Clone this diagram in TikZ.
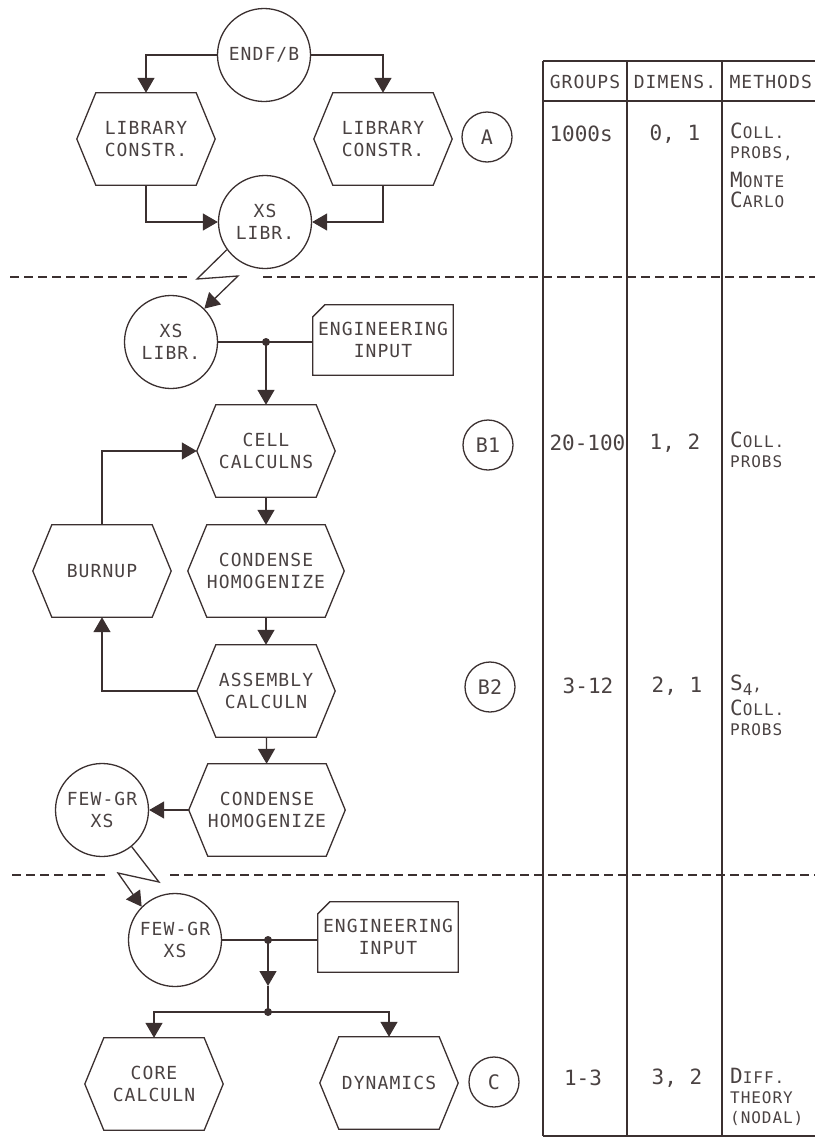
\documentclass[tikz,border=0pt]{standalone}
\usepackage{fontspec}
\newfontfamily\rxmono[LetterSpace=6]{DejaVu Sans Mono}
\newfontfamily\rxplain{DejaVu Sans Mono}
\usetikzlibrary{arrows.meta}
\definecolor{rxInk}{HTML}{3B3030}
\definecolor{rxText}{HTML}{4A4242}
\newcommand\rxfont{\rxmono\fontsize{18}{22}\selectfont}
\newcommand\rxvalfont{\rxplain\fontsize{21}{24}\selectfont}
\newcommand\rxsmallfont{\rxmono\fontsize{16}{20}\selectfont}
\newcommand\rxtagfont{\rxplain\fontsize{20}{22}\selectfont}
\newcommand\rxcap[1]{{\fontsize{21}{20}\selectfont #1}}
\tikzset{
  rx line/.style={draw=rxInk, line width=1.3pt},
  rx flow/.style={rx line, -{Triangle[length=15pt,width=17pt]}},
  rx guide/.style={draw=rxInk, line width=1.2pt, dash pattern=on 9pt off 5pt},
  rx disc/.style={circle, rx line, minimum size=93pt, inner sep=0pt, align=center, text=rxText, font=\rxfont},
  rx hex/.style={rectangle, minimum width=100pt, minimum height=92pt, inner sep=0pt, align=center, text=rxText, font=\rxfont},
  rx card/.style={rectangle, minimum width=140pt, minimum height=70pt, inner sep=0pt, align=center, text=rxText, font=\rxfont},
  rx tag/.style={circle, rx line, minimum size=50pt, inner sep=0pt, text=rxText, font=\rxtagfont},
  rx dot/.style={circle, fill=rxInk, minimum size=8pt, inner sep=0pt},
  rx head/.style={text=rxText, font=\rxfont},
  rx value/.style={text=rxText, font=\rxvalfont},
  rx method/.style={anchor=north west, align=left, inner sep=0pt, text=rxText, font=\rxsmallfont},
}

\begin{document}
\begin{tikzpicture}[x=1pt, y=-1pt]
  \useasboundingbox (0,0) rectangle (815,1138);
  % Level A: library construction
  \node[rx disc] (endf) at (264,55) {ENDF/B};
  \node[rx hex] (libL) at (146,139) {LIBRARY\\CONSTR.};
  \node[rx hex] (libR) at (383,139) {LIBRARY\\CONSTR.};
  \node[rx disc] (xsA) at (265,222) {XS\\LIBR.};
  \node[rx tag] (tagA) at (487,137) {A};
  \draw[rx flow] (endf) -| (libL);
  \draw[rx flow] (endf) -| (libR);
  \draw[rx flow] (libL) |- (xsA);
  \draw[rx flow] (libR) |- (xsA);
  % Level B: cell and assembly
  \node[rx disc] (xsB) at (171,342) {XS\\LIBR.};
  \node[rx card] (cardA) at (383,340) {ENGINEERING\\INPUT};
  \node[rx dot] (jA) at (266,342) {};
  \node[rx hex] (cell) at (266,451) {CELL\\CALCULNS};
  \node[rx hex] (cond) at (266,571) {CONDENSE\\HOMOGENIZE};
  \node[rx hex] (burn) at (102,571) {BURNUP};
  \node[rx hex] (asm) at (266,691) {ASSEMBLY\\CALCULN};
  \node[rx hex] (condB) at (267,810) {CONDENSE\\HOMOGENIZE};
  \node[rx disc] (fewA) at (102,810) {FEW-GR\\XS};
  \node[rx tag] (tagB1) at (488,445) {B1};
  \node[rx tag] (tagB2) at (490,687) {B2};
  \coordinate (boltA1) at (197,279);
  \coordinate (boltA2) at (238,276);
  \draw[rx flow] (xsA.216) -- (boltA1) -- (boltA2) -- (xsB.45);
  \draw[rx line] (xsB.east) -- (xsB.east -| cardA.west);
  \draw[rx flow] (jA.center) -- (cell);
  \draw[rx flow] (cell) -- (cond);
  \draw[rx flow] (cond) -- (asm);
  \draw[rx flow] (asm) -- (condB);
  \draw[rx flow] (burn.north) |- ([xshift=-19pt]cell.west);
  \draw[rx flow] ([xshift=-19pt]asm.west) -| (burn.south);
  \draw[rx flow] ([xshift=-19pt]condB.west) -- (fewA.east);
  % Level C: core
  \node[rx disc] (fewB) at (175,940) {FEW-GR\\XS};
  \node[rx card] (cardB) at (388,937) {ENGINEERING\\INPUT};
  \node[rx dot] (jB) at (268,940) {};
  \node[rx dot] (jC) at (268,1012) {};
  \node[rx hex] (core) at (154,1084) {CORE\\CALCULN};
  \node[rx hex] (dyn) at (389,1083) {DYNAMICS};
  \node[rx tag] (tagC) at (494,1082) {C};
  \coordinate (boltB1) at (159,882);
  \coordinate (boltB2) at (118,873);
  \coordinate (midC) at (268,986);
  \draw[rx flow] (fewA.309) -- (boltB1) -- (boltB2) -- (fewB.135);
  \draw[rx line] (fewB.east) -- (fewB.east -| cardB.west);
  \draw[rx flow] (jB.center) -- (midC);
  \draw[rx line] (midC) -- (jC.center);
  \draw[rx flow] (jC.center) -| (core);
  \draw[rx flow] (jC.center) -| (dyn);
  % Outlines of the process boxes and input cards
  \foreach \n in {libL,libR,cell,cond,burn,asm,condB,core,dyn}
    \draw[rx line] (\n.north west) -- (\n.north east) -- ([xshift=19pt]\n.east)
      -- (\n.south east) -- (\n.south west) -- ([xshift=-19pt]\n.west) -- cycle;
  \foreach \n in {cardA,cardB}
    \draw[rx line] ([xshift=12pt]\n.north west) -- (\n.north east) -- (\n.south east)
      -- (\n.south west) -- ([yshift=-12pt]\n.north west) -- cycle;
  % Level separators
  \draw[rx guide] (10,277) -- (188,277) (263,277) -- (815,277);
  \draw[rx guide] (12,875) -- (107,875) (170,875) -- (815,875);
  % Table
  \draw[rx line] (543,61) -- (815,61) (543,101) -- (815,101) (543,1136) -- (815,1136);
  \foreach \x in {543,627,722} \draw[rx line] (\x,61) -- (\x,1136);
  \node[rx head] (hGroups) at (585,82) {GROUPS};
  \node[rx head] (hDimens) at (675,82) {DIMENS.};
  \node[rx head, anchor=west] (hMethods) at (726,82) {METHODS};
  \node[rx value, anchor=west] (gA) at (546,134) {1000s};
  \node[rx value] (dA) at (675,134) {0, 1};
  \node[rx method] (mA) at (730,123) {\rxcap{C}OLL.\\PROBS,\\[9pt]\rxcap{M}ONTE\\\rxcap{C}ARLO};
  \node[rx value, anchor=west] (gB1) at (546,443) {20-100};
  \node[rx value] (dB1) at (675,443) {1, 2};
  \node[rx method] (mB1) at (730,432) {\rxcap{C}OLL.\\PROBS};
  \node[rx value] (gB2) at (588,686) {3-12};
  \node[rx value] (dB2) at (677,686) {2, 1};
  \node[rx method] (mB2) at (730,675) {\rxcap{S}\raisebox{-5pt}{4},\\[3pt]\rxcap{C}OLL.\\PROBS};
  \node[rx value] (gC) at (583,1078) {1-3};
  \node[rx value] (dC) at (677,1078) {3, 2};
  \node[rx method] (mC) at (730,1068) {\rxcap{D}IFF.\\THEORY\\(NODAL)};
\end{tikzpicture}
\end{document}
